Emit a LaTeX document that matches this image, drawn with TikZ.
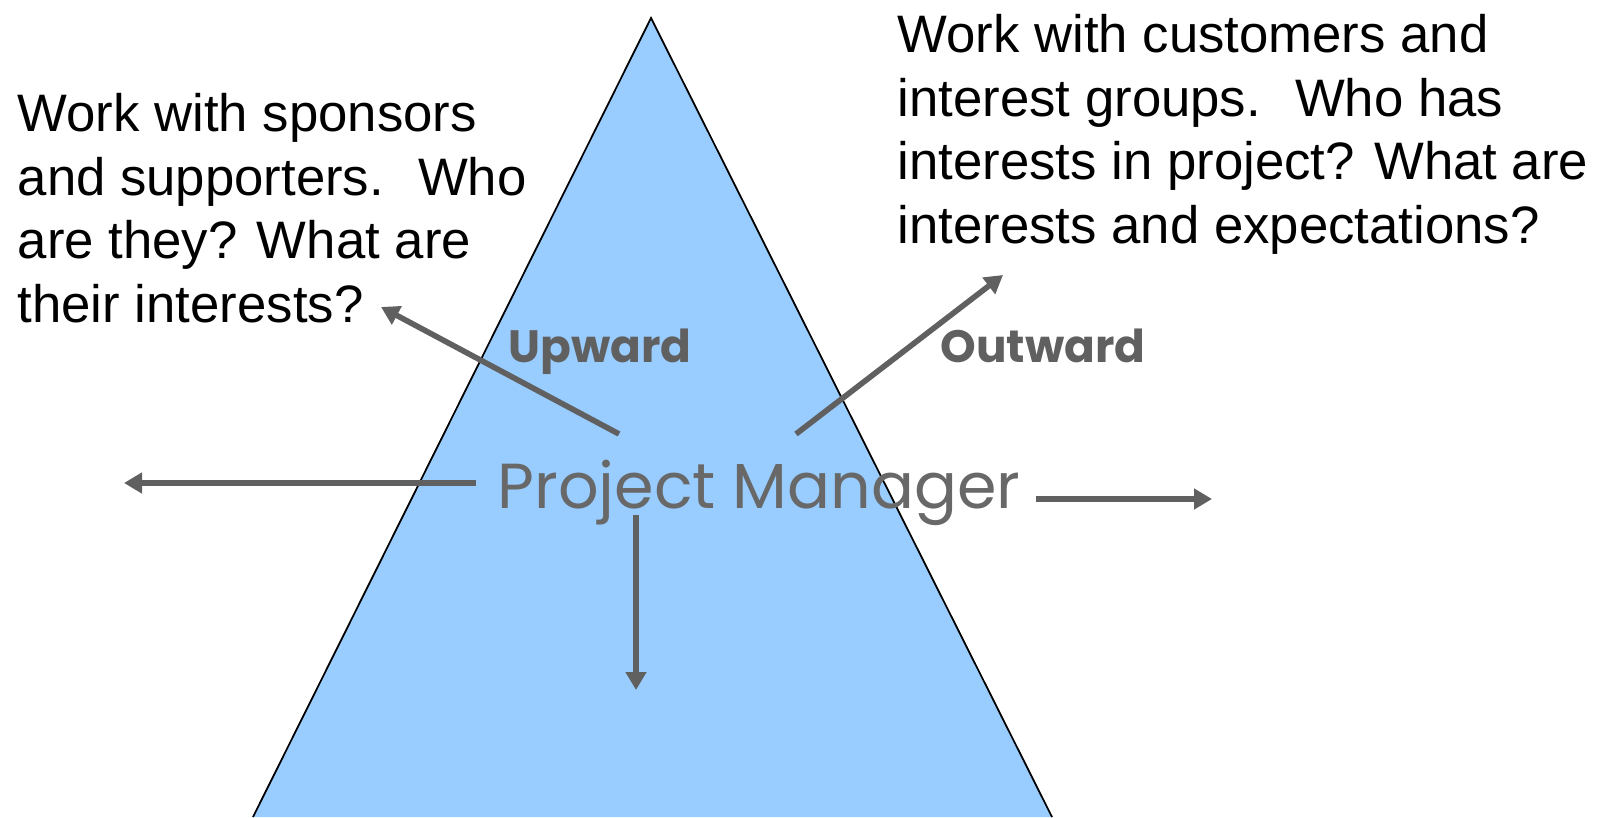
\documentclass[tikz,border=0pt]{standalone}
\usepackage{fontspec}
\setmainfont{Liberation Sans}
\newfontfamily\gothic{Poppins}
\usetikzlibrary{arrows.meta}
\definecolor{skyblue}{HTML}{99CCFF}
\definecolor{arrowgray}{HTML}{606060}

\begin{document}
\begin{tikzpicture}[
		note/.style={align=left,anchor=north west,inner sep=0pt,font=\fontsize{15}{18.07}\selectfont},
		side/.style={anchor=base,text=arrowgray,font=\gothic\bfseries\fontsize{12.9}{16}\selectfont},
		link/.style={draw=arrowgray,line width=1.6pt,-{Triangle[width=0.2cm,length=0.18cm]}}
	]
	\useasboundingbox (0,0) rectangle (16.06,8.17);
	% pyramid, cut off by the lower edge
	\fill[skyblue] (2.53,0) -- (6.51,7.99) -- (10.52,0) -- cycle;
	\draw[line width=0.5pt] (2.53,0) -- (6.51,7.99) -- (10.52,0);

	\node[anchor=base,text=arrowgray!95!white,font=\gothic\fontsize{18.1}{22}\selectfont] (pm) at (7.59,3.08) {Project Manager};
	\node[side] (up) at (6.00,4.54) {Upward};
	\node[side] (out) at (10.43,4.54) {Outward};

	\node[note] (sponsors) at (0.17,7.24) {Work with sponsors\\and supporters.~ Who\\are they? What are\\their interests?};
	\node[note] (customers) at (8.97,8.03) {Work with customers and\\interest groups.~ Who has\\interests in project? What are\\interests and expectations?};

	% arrows leaving the project manager
	\coordinate (upA) at (6.19,3.83);
	\coordinate (upB) at (3.81,5.10);
	\coordinate (outA) at (7.96,3.83);
	\coordinate (outB) at (10.03,5.42);
	\coordinate (leftA) at (4.76,3.34);
	\coordinate (leftB) at (1.24,3.34);
	\coordinate (rightA) at (10.36,3.18);
	\coordinate (rightB) at (12.12,3.18);
	\coordinate (downA) at (6.36,3.02);
	\coordinate (downB) at (6.36,1.27);
	\foreach \dir in {up,out,left,right,down}
		\draw[link] (\dir A) -- (\dir B);
\end{tikzpicture}
\end{document}
